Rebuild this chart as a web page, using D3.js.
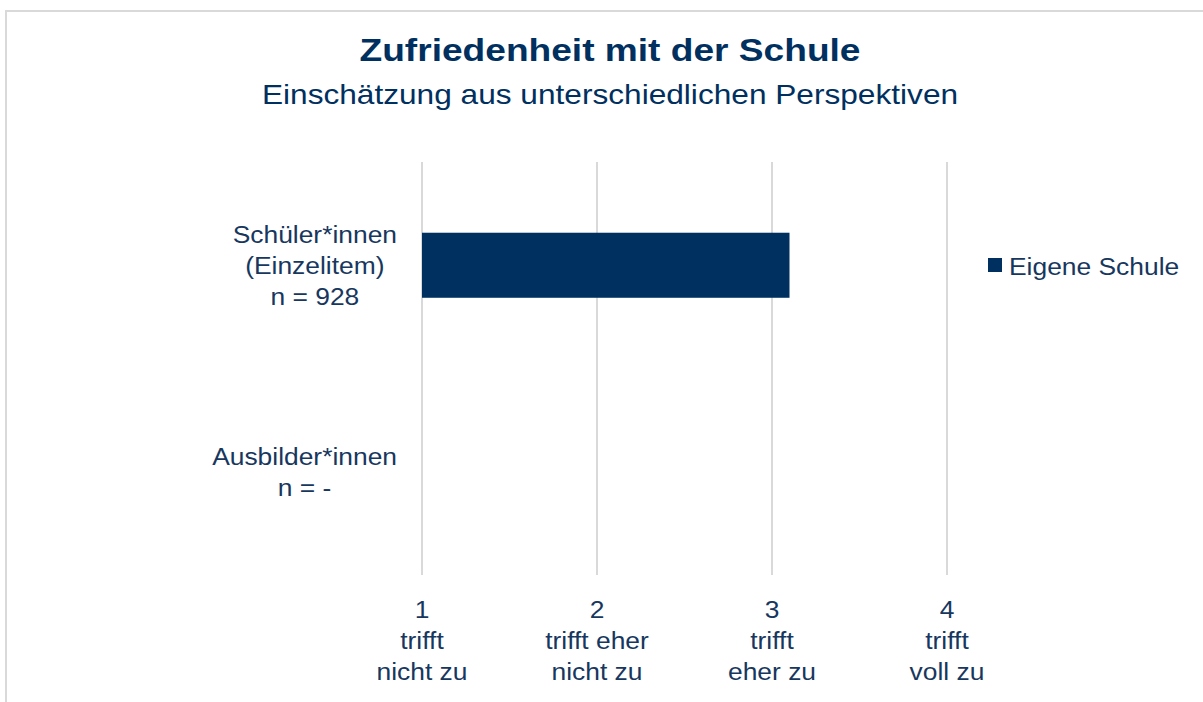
<html>
<head>
<meta charset="utf-8">
<title>Zufriedenheit mit der Schule</title>
<script src="https://d3js.org/d3.v7.min.js"></script>
<style>
  body { margin: 0; background: #fff; }
  text { font-family: "Liberation Sans", Arial, sans-serif; fill: #17375e; }
  .grid line { stroke: #d9d9d9; stroke-width: 2px; }
  .bar { fill: #003060; }
</style>
</head>
<body>
<script>
// data
var groups = ["Schüler*innen", "Ausbilder*innen"];
var groupLabels = [["Schüler*innen", "(Einzelitem)", "n = 928"], ["Ausbilder*innen", "n = -"]];
var values = [3.1, null];
var seriesName = "Eigene Schule";
var ticks = [1, 2, 3, 4];
var tickLabels = [["1", "trifft", "nicht zu"], ["2", "trifft eher", "nicht zu"], ["3", "trifft", "eher zu"], ["4", "trifft", "voll zu"]];

var width = 1203, height = 702;
var svg = d3.select("body").append("svg")
    .attr("width", width)
    .attr("height", height);

// text is a bit wider than plain Arial in the source, so stretch it
var sx = 1.1;
function addText(parent, x, y, str, size, anchor, opts) {
    opts = opts || {};
    var g = parent.append("g")
        .attr("transform", "translate(" + x + "," + y + ") scale(" + (opts.sx || sx) + ",1)");
    var t = g.append("text")
        .attr("text-anchor", anchor)
        .style("font-size", size + "px")
        .text(str);
    if (opts.bold) t.style("font-weight", "bold");
    if (opts.fill) t.style("fill", opts.fill);
    return t;
}

// outer frame (runs off right/bottom edge)
svg.append("rect")
    .attr("x", 6).attr("y", 11)
    .attr("width", 1210).attr("height", 720)
    .attr("fill", "none")
    .attr("stroke", "#d9d9d9")
    .attr("stroke-width", 2);

// titles
addText(svg, 610, 61, "Zufriedenheit mit der Schule", 32, "middle", { bold: true, fill: "#003060", sx: 1.16 });
addText(svg, 610, 104, "Einschätzung aus unterschiedlichen Perspektiven", 28, "middle", { fill: "#003060", sx: 1.13 });

// scales
var x = d3.scaleLinear().domain([1, 4]).range([422, 947]);
var y = d3.scaleBand().domain(groups).range([162, 575]).paddingInner(0.685).paddingOuter(0.3425);

// grid
svg.append("g").attr("class", "grid")
    .selectAll("line").data(ticks).enter().append("line")
    .attr("x1", function (d) { return x(d); })
    .attr("x2", function (d) { return x(d); })
    .attr("y1", 162).attr("y2", 575);

// bars
svg.selectAll(".bar")
    .data(groups.map(function (g, i) { return { g: g, v: values[i] }; }).filter(function (d) { return d.v != null; }))
    .enter().append("rect")
    .attr("class", "bar")
    .attr("x", x(1))
    .attr("y", function (d) { return y(d.g); })
    .attr("width", function (d) { return x(d.v) - x(1); })
    .attr("height", y.bandwidth());

// y labels: centred block, block right edge next to the axis
var lh = 31, labelRight = 397;
groups.forEach(function (g, i) {
    var lines = groupLabels[i];
    var cy = y(g) + y.bandwidth() / 2;
    var block = svg.append("g");
    var maxW = 0;
    lines.forEach(function (l, j) {
        var t = addText(block, 0, cy + (j - (lines.length - 1) / 2) * lh + 9, l, 24, "middle");
        maxW = Math.max(maxW, t.node().getComputedTextLength() * sx);
    });
    block.attr("transform", "translate(" + (labelRight - maxW / 2) + ",0)");
});

// x tick labels
ticks.forEach(function (tk, i) {
    tickLabels[i].forEach(function (l, j) {
        addText(svg, x(tk), 618 + j * lh, l, 24, "middle");
    });
});

// legend
svg.append("rect")
    .attr("x", 988).attr("y", 258)
    .attr("width", 14).attr("height", 14)
    .attr("class", "bar");
addText(svg, 1009, 275, seriesName, 24, "start");
</script>
</body>
</html>
